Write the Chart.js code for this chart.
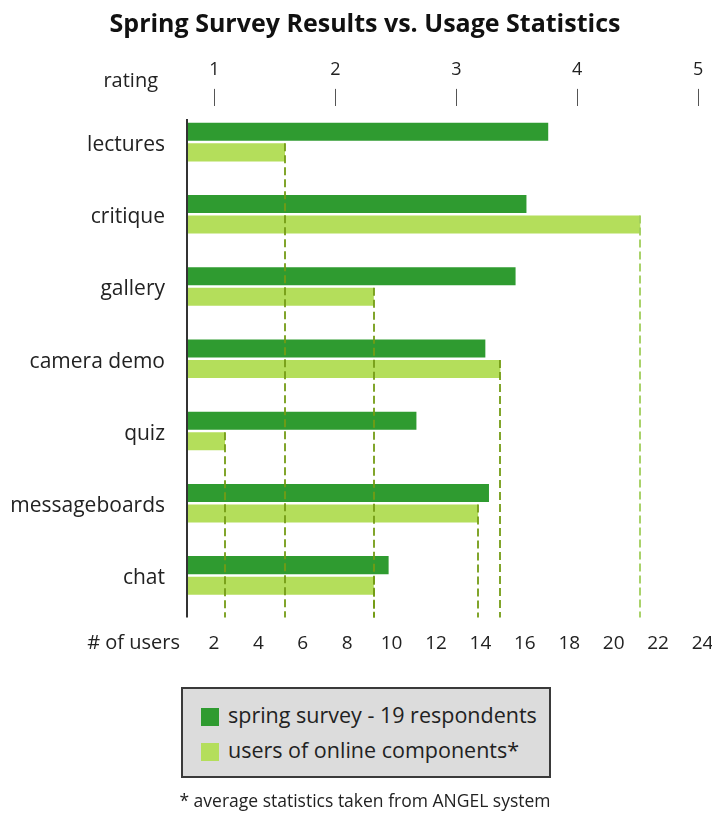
<!DOCTYPE html>
<html>
<head>
<meta charset="utf-8">
<script src="https://cdn.jsdelivr.net/npm/chart.js@4.4.1/dist/chart.umd.min.js"></script>
<style>
  html, body { margin: 0; padding: 0; background: #fff; }
  #wrap { position: relative; width: 712px; height: 819px; font-family: 'Open Sans', sans-serif; color: #222; }
  #chart { position: absolute; left: 0; top: 0; }
  #title { position: absolute; left: 0; top: 10px; width: 730px; text-align: center; font-size: 25px; line-height: 24px;
    font-weight: bold; color: #111; white-space: nowrap; }
  #legendBox { position: absolute; left: 181px; top: 687px; width: 366px; height: 87px;
    border: 2px solid #3a3a3a; background: #dcdcdc; font-size: 21.5px; }
  .sw { position: absolute; left: 18px; width: 18px; height: 18px; }
  .lbl { position: absolute; left: 45px; height: 24px; line-height: 24px; white-space: nowrap; }
  #note { position: absolute; left: 0; top: 792px; width: 730px; text-align: center; font-size: 17.5px; line-height: 17px; white-space: nowrap; }
</style>
</head>
<body>
<div id="wrap">
  <canvas id="chart" width="712" height="819"></canvas>
  <div id="title">Spring Survey Results vs. Usage Statistics</div>
  <div id="legendBox">
    <div class="sw" style="top:19px;background:#2f9b30"></div>
    <div class="lbl" style="top:14px">spring survey - 19 respondents</div>
    <div class="sw" style="top:54px;background:#b4de5b"></div>
    <div class="lbl" style="top:49px">users of online components*</div>
  </div>
  <div id="note">* average statistics taken from ANGEL system</div>
</div>
<script>
const categories = ['lectures', 'critique', 'gallery', 'camera demo', 'quiz', 'messageboards', 'chat'];
const surveyRatings = [3.76, 3.58, 3.49, 3.24, 2.67, 3.27, 2.44];
const userCounts = [5.2, 21.2, 9.2, 14.9, 2.5, 13.9, 9.2];
const ratingTicks = [1, 2, 3, 4, 5];
const userTicks = [2, 4, 6, 8, 10, 12, 14, 16, 18, 20, 22, 24];

const darkGreen = '#2f9b30';
const lightGreen = '#b4de5b';

// keep axis label overhang from squeezing the plot area
function noSidePadding(scale) {
    scale.paddingLeft = 0;
    scale.paddingRight = 0;
    scale.paddingTop = 0;
    scale.paddingBottom = 0;
}

const extras = {
    id: 'extras',
    afterDatasetsDraw(chart) {
        const ctx = chart.ctx;
        const area = chart.chartArea;
        const xu = chart.scales.xUsers;
        const meta = chart.getDatasetMeta(1);
        ctx.save();
        ctx.lineWidth = 2;
        ctx.setLineDash([8, 4]);
        meta.data.forEach((bar, i) => {
            const x = Math.round(xu.getPixelForValue(userCounts[i]));
            ctx.strokeStyle = i === 1 ? 'rgba(160,205,90,0.9)' : 'rgba(115,155,20,0.9)';
            ctx.beginPath();
            ctx.moveTo(x, bar.y - bar.height / 2);
            ctx.lineTo(x, area.bottom + 6);
            ctx.stroke();
        });
        ctx.setLineDash([]);
        ctx.strokeStyle = '#333';
        ctx.lineWidth = 2;
        ctx.beginPath();
        ctx.moveTo(area.left, area.top + 13);
        ctx.lineTo(area.left, area.bottom + 6);
        ctx.stroke();

        ctx.fillStyle = '#222';
        ctx.font = '20px "Open Sans"';
        ctx.textAlign = 'right';
        ctx.textBaseline = 'middle';
        ctx.fillText('rating', 158, 81);
        ctx.fillText('# of users', 180, 643);
        ctx.restore();
    }
};

const ctx = document.getElementById('chart').getContext('2d');
new Chart(ctx, {
    type: 'bar',
    data: {
        labels: categories,
        datasets: [{
            label: 'spring survey - 19 respondents',
            data: surveyRatings,
            backgroundColor: darkGreen,
            xAxisID: 'xRating',
            barPercentage: 0.88,
            categoryPercentage: 0.57
        }, {
            label: 'users of online components*',
            data: userCounts,
            backgroundColor: lightGreen,
            xAxisID: 'xUsers',
            barPercentage: 0.88,
            categoryPercentage: 0.57
        }]
    },
    options: {
        indexAxis: 'y',
        responsive: false,
        animation: false,
        layout: {
            padding: { top: 45, left: 0, right: 9.5, bottom: 162.4 }
        },
        plugins: {
            legend: { display: false },
            tooltip: { enabled: false },
            title: { display: false }
        },
        scales: {
            xRating: {
                position: 'top',
                min: 0.7725,
                max: 5.036,
                afterBuildTicks: axis => { axis.ticks = ratingTicks.map(v => ({ value: v })); },
                afterFit: scale => { scale.height = 105.9 - 45; noSidePadding(scale); },
                grid: { display: true, drawOnChartArea: false, drawTicks: true, tickLength: 17, tickColor: '#555', tickWidth: 1 },
                border: { display: false },
                ticks: { color: '#222', padding: 8, font: { family: 'Open Sans', size: 18 } }
            },
            xUsers: {
                position: 'bottom',
                min: 0.788,
                max: 24,
                afterBuildTicks: axis => { axis.ticks = userTicks.map(v => ({ value: v })); },
                afterFit: scale => { scale.height = 45; noSidePadding(scale); },
                grid: { display: false, drawTicks: false },
                border: { display: false },
                ticks: { color: '#222', padding: 21, font: { family: 'Open Sans', size: 19 } }
            },
            y: {
                afterFit: scale => { scale.width = 187; noSidePadding(scale); },
                grid: { display: false, drawTicks: false },
                border: { display: false },
                ticks: { color: '#222', padding: 22, labelOffset: 3, font: { family: 'Open Sans', size: 21 } }
            }
        }
    },
    plugins: [extras]
});
</script>
</body>
</html>
